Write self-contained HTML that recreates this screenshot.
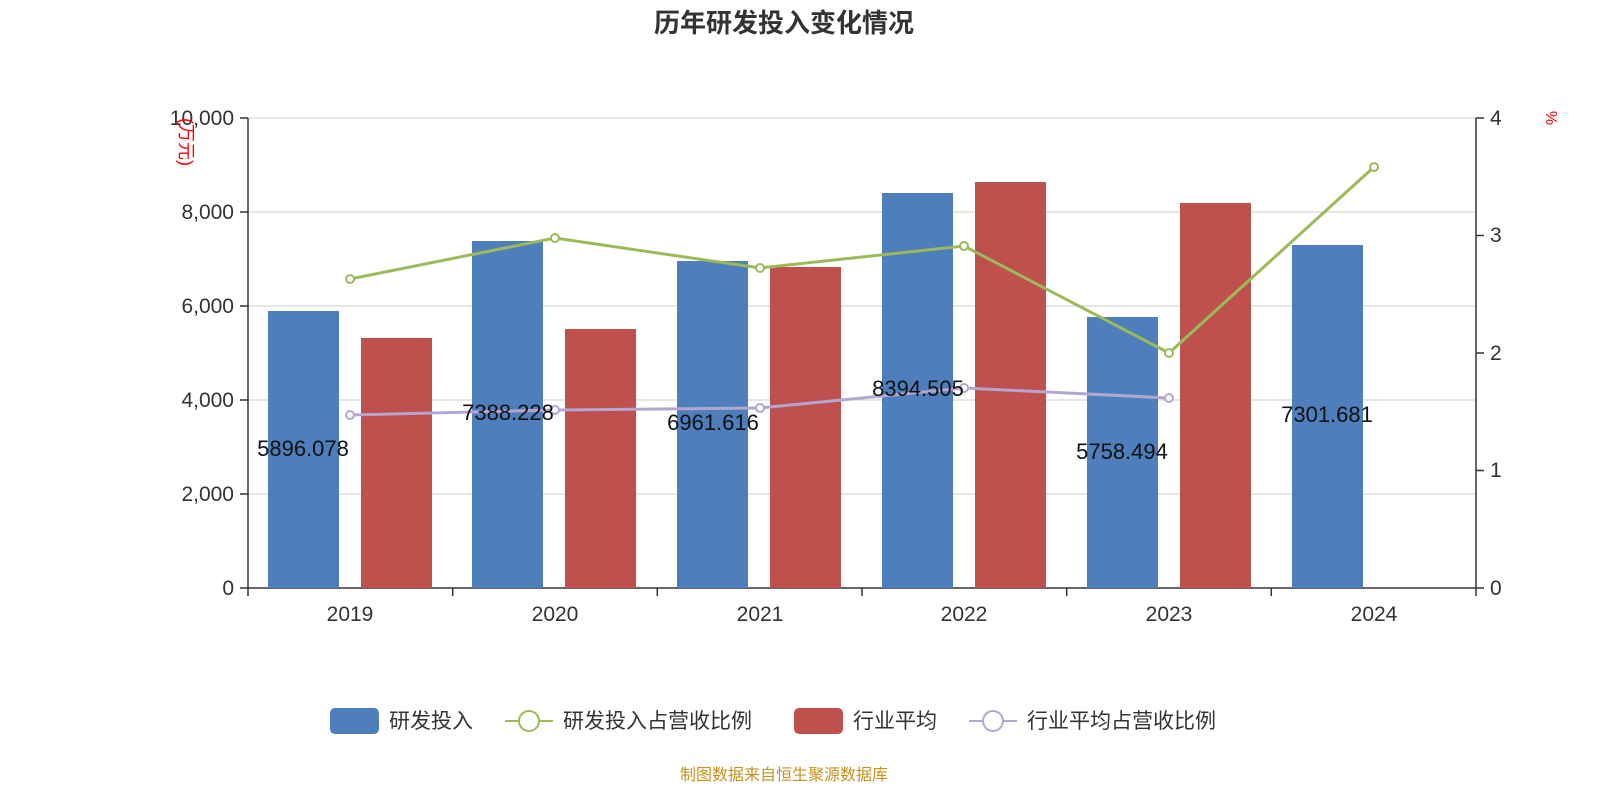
<!DOCTYPE html>
<html><head><meta charset="utf-8"><style>
body{margin:0;background:#fff;}
svg text{font-family:"Liberation Sans","Noto Sans CJK SC",sans-serif;}
</style></head><body>
<svg width="1600" height="800" viewBox="0 0 1600 800" xmlns="http://www.w3.org/2000/svg">
<text x="784" y="32" text-anchor="middle" font-size="26" font-weight="bold" fill="#333">历年研发投入变化情况</text>
<g stroke="#ccc" stroke-width="1">
<line x1="248" y1="118" x2="1476" y2="118"/>
<line x1="248" y1="212" x2="1476" y2="212"/>
<line x1="248" y1="306" x2="1476" y2="306"/>
<line x1="248" y1="400" x2="1476" y2="400"/>
<line x1="248" y1="494" x2="1476" y2="494"/>
</g>
<g stroke="#333" stroke-width="1.5">
<line x1="248" y1="118" x2="248" y2="588"/>
<line x1="1476" y1="118" x2="1476" y2="588"/>
<line x1="248" y1="588" x2="1476" y2="588"/>
<line x1="240" y1="118" x2="248" y2="118"/><line x1="240" y1="212" x2="248" y2="212"/><line x1="240" y1="306" x2="248" y2="306"/><line x1="240" y1="400" x2="248" y2="400"/><line x1="240" y1="494" x2="248" y2="494"/><line x1="240" y1="588" x2="248" y2="588"/>
<line x1="1476" y1="118" x2="1484" y2="118"/><line x1="1476" y1="235.5" x2="1484" y2="235.5"/><line x1="1476" y1="353" x2="1484" y2="353"/><line x1="1476" y1="470.5" x2="1484" y2="470.5"/><line x1="1476" y1="588" x2="1484" y2="588"/>
<line x1="248" y1="588" x2="248" y2="596"/><line x1="452.7" y1="588" x2="452.7" y2="596"/><line x1="657.3" y1="588" x2="657.3" y2="596"/><line x1="862" y1="588" x2="862" y2="596"/><line x1="1066.7" y1="588" x2="1066.7" y2="596"/><line x1="1271.3" y1="588" x2="1271.3" y2="596"/><line x1="1476" y1="588" x2="1476" y2="596"/>
</g>
<g font-size="21" fill="#333" text-anchor="end">
<text x="234" y="125">10,000</text><text x="234" y="219">8,000</text><text x="234" y="313">6,000</text><text x="234" y="407">4,000</text><text x="234" y="501">2,000</text><text x="234" y="595">0</text>
</g>
<g font-size="21" fill="#333">
<text x="1490" y="125">4</text><text x="1490" y="242">3</text><text x="1490" y="360">2</text><text x="1490" y="477">1</text><text x="1490" y="595">0</text>
</g>
<g font-size="21" fill="#333" text-anchor="middle">
<text x="350" y="621">2019</text><text x="555" y="621">2020</text><text x="760" y="621">2021</text><text x="964" y="621">2022</text><text x="1169" y="621">2023</text><text x="1374" y="621">2024</text>
</g>
<text transform="translate(180,142) rotate(90)" font-size="18" fill="red" text-anchor="middle">(万元)</text>
<text transform="translate(1546,118) rotate(90)" font-size="16" fill="red" text-anchor="middle">%</text>
<g fill="#4e7fbc">
<rect x="268" y="311" width="71" height="277"/>
<rect x="472" y="241" width="71" height="347"/>
<rect x="677" y="261" width="71" height="327"/>
<rect x="882" y="193" width="71" height="395"/>
<rect x="1087" y="317" width="71" height="271"/>
<rect x="1292" y="245" width="71" height="343"/>
</g>
<g fill="#c0504d">
<rect x="361" y="338" width="71" height="250"/>
<rect x="565" y="329" width="71" height="259"/>
<rect x="770" y="267" width="71" height="321"/>
<rect x="975" y="182" width="71" height="406"/>
<rect x="1180" y="203" width="71" height="385"/>
</g>
<polyline fill="none" stroke="#9bbb59" stroke-width="3" points="350,279 555,238 760,268 964,246 1169,353 1374,167"/>
<g fill="#fff" stroke="#9bbb59" stroke-width="2">
<circle cx="350" cy="279" r="4"/><circle cx="555" cy="238" r="4"/><circle cx="760" cy="268" r="4"/><circle cx="964" cy="246" r="4"/><circle cx="1169" cy="353" r="4"/><circle cx="1374" cy="167" r="4"/>
</g>
<polyline fill="none" stroke="#b3a7cf" stroke-width="3" points="350,415 555,410 760,408 964,388 1169,398"/>
<g fill="#fff" stroke="#b3a7cf" stroke-width="2">
<circle cx="350" cy="415" r="4"/><circle cx="555" cy="410" r="4"/><circle cx="760" cy="408" r="4"/><circle cx="964" cy="388" r="4"/><circle cx="1169" cy="398" r="4"/>
</g>
<g font-size="22" fill="#111" text-anchor="middle">
<text x="303" y="456">5896.078</text><text x="508" y="420">7388.228</text><text x="713" y="430">6961.616</text><text x="918" y="396">8394.505</text><text x="1122" y="459">5758.494</text><text x="1327" y="422">7301.681</text>
</g>
<g font-size="21" fill="#333">
<rect x="330" y="708" width="49" height="26" rx="5" fill="#4e7fbc"/>
<text x="389" y="728">研发投入</text>
<line x1="505" y1="721" x2="553" y2="721" stroke="#9bbb59" stroke-width="2"/>
<circle cx="529" cy="721" r="10" fill="#fff" stroke="#9bbb59" stroke-width="2"/>
<text x="563" y="728">研发投入占营收比例</text>
<rect x="794" y="708" width="49" height="26" rx="5" fill="#c0504d"/>
<text x="853" y="728">行业平均</text>
<line x1="969" y1="721" x2="1017" y2="721" stroke="#b3a7cf" stroke-width="2"/>
<circle cx="993" cy="721" r="10" fill="#fff" stroke="#b3a7cf" stroke-width="2"/>
<text x="1027" y="728">行业平均占营收比例</text>
</g>
<text x="784" y="780" text-anchor="middle" font-size="16" fill="#c8911e">制图数据来自恒生聚源数据库</text>
</svg>
</body></html>
